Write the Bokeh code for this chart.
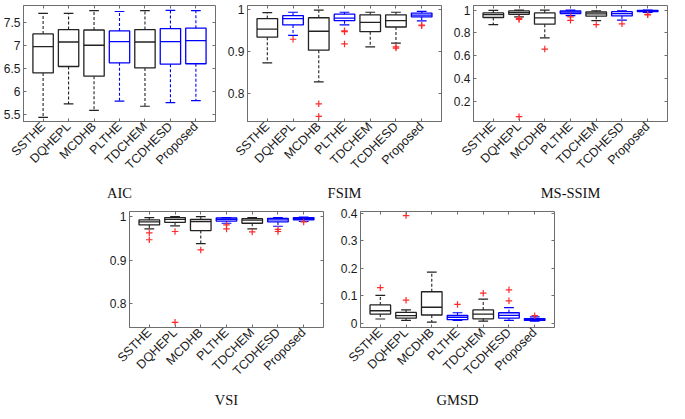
import math
from bokeh.plotting import figure
from bokeh.layouts import row, column
from bokeh.models import Range1d, FixedTicker, LinearAxis, Spacer, ColumnDataSource
from bokeh.transform import dodge
from bokeh.embed import file_html
from bokeh.resources import INLINE

# ---------------- data ----------------
methods = ["SSTHE", "DQHEPL", "MCDHB", "PLTHE", "TDCHEM", "TCDHESD", "Proposed"]

# AIC
aic_lw = [5.44, 5.73, 5.59, 5.79, 5.68, 5.76, 5.80]
aic_q1 = [6.40, 6.54, 6.33, 6.62, 6.51, 6.59, 6.60]
aic_med = [6.97, 7.07, 7.00, 7.08, 7.07, 7.08, 7.10]
aic_q3 = [7.245, 7.34, 7.33, 7.31, 7.34, 7.36, 7.37]
aic_uw = [7.69, 7.69, 7.75, 7.73, 7.75, 7.755, 7.75]
aic_out = [[], [], [], [], [], [], []]
aic_yticks = [5.5, 6, 6.5, 7, 7.5]
aic_ylabels = ["5.5", "6", "6.5", "7", "7.5"]

# FSIM
fsim_lw = [0.873, 0.938, 0.828, 0.963, 0.911, 0.920, 0.9725]
fsim_q1 = [0.934, 0.963, 0.903, 0.973, 0.947, 0.958, 0.982]
fsim_med = [0.953, 0.978, 0.948, 0.979, 0.969, 0.973, 0.986]
fsim_q3 = [0.978, 0.985, 0.980, 0.9885, 0.987, 0.987, 0.991]
fsim_uw = [0.992, 0.993, 0.998, 0.993, 0.993, 0.993, 0.995]
fsim_out = [[], [0.929], [0.776, 0.746], [0.949, 0.947, 0.918], [], [0.911, 0.908], [0.9626, 0.961]]
fsim_yticks = [0.8, 0.9, 1]
fsim_ylabels = ["0.8", "0.9", "1"]

# MS-SSIM
ms_lw = [0.873, 0.941, 0.757, 0.952, 0.907, 0.912, 0.980]
ms_q1 = [0.935, 0.963, 0.876, 0.969, 0.946, 0.949, 0.986]
ms_med = [0.960, 0.977, 0.932, 0.983, 0.966, 0.969, 0.992]
ms_q3 = [0.975, 0.992, 0.975, 0.992, 0.983, 0.986, 0.997]
ms_uw = [0.997, 1.0, 1.0, 1.0, 0.994, 0.994, 1.0]
ms_out = [[], [0.927, 0.918, 0.065], [0.658], [0.941, 0.910], [0.873], [0.879], [0.963, 0.958]]
ms_yticks = [0.2, 0.4, 0.6, 0.8, 1]
ms_ylabels = ["0.2", "0.4", "0.6", "0.8", "1"]

# VSI
vsi_lw = [0.972, 0.979, 0.938, 0.985, 0.972, 0.978, 0.989]
vsi_q1 = [0.981, 0.987, 0.968, 0.990, 0.985, 0.988, 0.993]
vsi_med = [0.988, 0.994, 0.989, 0.994, 0.992, 0.9926, 0.9956]
vsi_q3 = [0.9926, 0.998, 0.994, 0.997, 0.9956, 0.9963, 0.998]
vsi_uw = [0.998, 1.0, 1.0, 0.998, 0.998, 0.998, 0.999]
vsi_out = [[0.963, 0.947], [0.966, 0.757], [0.9235], [0.981, 0.972], [0.965], [0.971, 0.966], [0.988]]
vsi_yticks = [0.8, 0.9, 1]
vsi_ylabels = ["0.8", "0.9", "1"]

# GMSD
gm_lw = [0.016, 0.0106, 0.0047, 0.0106, 0.008, 0.0106, 0.008]
gm_q1 = [0.034, 0.019, 0.0305, 0.014, 0.0164, 0.019, 0.0106]
gm_med = [0.046, 0.028, 0.0587, 0.0223, 0.034, 0.029, 0.014]
gm_q3 = [0.067, 0.040, 0.115, 0.029, 0.049, 0.0387, 0.0176]
gm_uw = [0.102, 0.049, 0.1865, 0.0387, 0.088, 0.0575, 0.0235]
gm_out = [[0.130], [0.0845, 0.392], [], [0.069], [0.110], [0.122, 0.082], [0.028]]
gm_yticks = [0, 0.1, 0.2, 0.3, 0.4]
gm_ylabels = ["0", "0.1", "0.2", "0.3", "0.4"]

# ---------------- style ----------------
K = "#222222"
B = "#0000ff"
col_default = [K, K, K, B, K, B, B]
col_fsim = [K, B, K, B, K, K, B]
OUT_C = "#ff2a2a"
FRAME_C = "#6e6e6e"
TXT_C = "#1a1a1a"
BOX_W = 0.8
CAP_W = 0.38
X_LO, X_HI = 0.23, 7.77
TICK_FS = "12px"
XTICK_FS = "12.5px"


def make_panel(title, lw, q1, med, q3, uw, outs, colors, ylo, yhi, yticks, ylabels,
               width, height, bl, br, bt, title_gap):
    xs = list(range(1, len(methods) + 1))
    p = figure(width=width, height=height, x_range=Range1d(X_LO, X_HI),
               y_range=Range1d(ylo, yhi), output_backend="svg", toolbar_location=None,
               min_border_left=bl, min_border_right=br, min_border_top=bt,
               min_border_bottom=0)
    p.xgrid.visible = False
    p.ygrid.visible = False
    p.outline_line_color = FRAME_C
    p.outline_line_width = 1
    src = ColumnDataSource(dict(x=xs, lw=lw, q1=q1, med=med, q3=q3, uw=uw, c=colors))
    # whiskers
    p.segment(x0="x", x1="x", y0="q3", y1="uw", line_color="c", line_dash="3 2",
              line_width=1.1, source=src)
    p.segment(x0="x", x1="x", y0="q1", y1="lw", line_color="c", line_dash="3 2",
              line_width=1.1, source=src)
    # caps
    p.segment(x0=dodge("x", -CAP_W / 2), x1=dodge("x", CAP_W / 2), y0="uw", y1="uw",
              line_color="c", line_width=1.2, source=src)
    p.segment(x0=dodge("x", -CAP_W / 2), x1=dodge("x", CAP_W / 2), y0="lw", y1="lw",
              line_color="c", line_width=1.2, source=src)
    # boxes
    p.vbar(x="x", width=BOX_W, bottom="q1", top="q3", fill_color=None,
           line_color="c", line_width=1.3, source=src)
    # medians
    p.segment(x0=dodge("x", -BOX_W / 2), x1=dodge("x", BOX_W / 2), y0="med", y1="med",
              line_color="c", line_width=1.3, source=src)
    # outliers
    ox, oy = [], []
    for x, o in zip(xs, outs):
        for v in o:
            ox.append(x)
            oy.append(v)
    if ox:
        p.scatter(ox, oy, marker="cross", size=6.5, line_color=OUT_C, line_width=1.2)

    xt = FixedTicker(ticks=xs)
    yt = FixedTicker(ticks=yticks)
    p.xaxis.ticker = xt
    p.xaxis.major_label_overrides = {x: m for x, m in zip(xs, methods)}
    p.xaxis.major_label_orientation = math.pi / 4
    p.xaxis.axis_label = title
    p.xaxis.axis_label_text_font = "Liberation Serif"
    p.xaxis.axis_label_text_font_style = "normal"
    p.xaxis.axis_label_text_font_size = "14.5px"
    p.xaxis.axis_label_text_color = "#111111"
    p.xaxis.axis_label_text_line_height = 1.0
    p.xaxis.axis_label_standoff = title_gap
    p.yaxis.ticker = yt
    p.yaxis.major_label_overrides = dict(zip(yticks, ylabels))
    for ax in [p.xaxis[0], p.yaxis[0]]:
        ax.major_label_text_font = "Liberation Sans"
        ax.major_label_text_font_size = TICK_FS
        ax.major_label_text_color = TXT_C
        ax.major_label_standoff = 3
        ax.major_tick_in = 3
        ax.major_tick_out = 0
        ax.major_tick_line_color = FRAME_C
        ax.minor_tick_line_color = None
        ax.axis_line_color = FRAME_C
    p.xaxis.major_label_text_font_size = XTICK_FS
    # mirrored ticks on top and right
    top = LinearAxis(ticker=xt, major_label_overrides={x: "" for x in xs},
                     major_label_standoff=0, major_tick_in=3, major_tick_out=0,
                     minor_tick_line_color=None, axis_line_color=None,
                     major_tick_line_color=FRAME_C)
    p.add_layout(top, "above")
    right = LinearAxis(ticker=yt, major_label_overrides={y: "" for y in yticks},
                       major_label_standoff=0, major_tick_in=3, major_tick_out=0,
                       minor_tick_line_color=None, axis_line_color=None,
                       major_tick_line_color=FRAME_C)
    p.add_layout(right, "right")
    return p


H1, H2 = 204, 207
p1 = make_panel("AIC", aic_lw, aic_q1, aic_med, aic_q3, aic_uw, aic_out, col_default,
                5.35, 7.86, aic_yticks, aic_ylabels, 220, H1, 21, 5, 5, 5)
p2 = make_panel("FSIM", fsim_lw, fsim_q1, fsim_med, fsim_q3, fsim_uw, fsim_out, col_fsim,
                0.734, 1.009, fsim_yticks, fsim_ylabels, 226, H1, 27, 5, 5, 5)
p3 = make_panel("MS-SSIM", ms_lw, ms_q1, ms_med, ms_q3, ms_uw, ms_out, col_default,
                0.023, 1.04, ms_yticks, ms_ylabels, 223, H1, 27, 2, 5, 5)
p4 = make_panel("VSI", vsi_lw, vsi_q1, vsi_med, vsi_q3, vsi_uw, vsi_out, col_default,
                0.745, 1.012, vsi_yticks, vsi_ylabels, 226, H2, 27, 5, 7, 6)
p5 = make_panel("GMSD", gm_lw, gm_q1, gm_med, gm_q3, gm_uw, gm_out, col_default,
                -0.015, 0.407, gm_yticks, gm_ylabels, 231, H2, 32, 5, 7, 6)

layout = column(row(p1, p2, p3), row(Spacer(width=102, height=H2), p4, p5))

with open("out.html", "w") as f:
    f.write(file_html(layout, INLINE))
